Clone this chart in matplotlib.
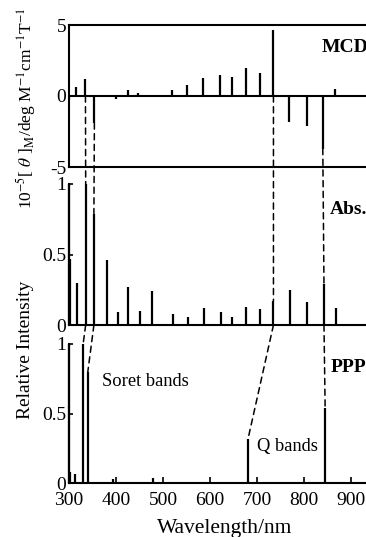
import numpy as np
import matplotlib.pyplot as plt
from matplotlib.patches import ConnectionPatch

plt.rcParams['font.family'] = ['Liberation Serif', 'DejaVu Serif']
plt.rcParams['mathtext.fontset'] = 'stix'

# MCD спектр (x 1e-5)
mcd_nm = [300, 315, 335, 354, 401, 425, 446, 520, 551, 586, 621, 646,
          676, 706, 735, 769, 806, 840, 867]
mcd_val = [-0.25, 0.6, 1.2, -1.9, -0.2, 0.45, 0.2, 0.4, 0.8, 1.25, 1.45, 1.35,
           2.0, 1.6, 4.65, -1.8, -2.1, -3.7, 0.5]

# Поглощение
abs_nm = [300, 303, 317, 335.5, 353, 381.5, 403.5, 426, 450, 476, 521, 554,
          588, 623, 647, 677, 707, 735, 771, 806, 842.5, 867.5]
abs_val = [1.0, 0.47, 0.30, 1.0, 0.79, 0.46, 0.09, 0.27, 0.10, 0.24, 0.08, 0.06,
           0.12, 0.095, 0.057, 0.13, 0.11, 0.17, 0.25, 0.16, 0.29, 0.12]

# PPP расчёт
ppp_nm = [300, 302, 313, 330, 340, 393, 478, 681, 845]
ppp_val = [1.0, 0.08, 0.07, 1.0, 0.8, 0.03, 0.035, 0.32, 0.54]

# пары пиков, соединённые штрихами
links_mcd_abs = [(2, 3), (3, 4), (14, 17), (17, 20)]
links_abs_ppp = [(3, 3), (4, 4), (17, 7), (20, 8)]

W, H = 366, 537
fig = plt.figure(figsize=(W / 100, H / 100), dpi=100)

left = 69 / W
xmax = 300 + (W - 69) / 0.47

def ax_box(y_top, y_bot):
    return [left, 1 - y_bot / H, 1 - left, (y_bot - y_top) / H]

ax1 = fig.add_axes(ax_box(25, 167))
ax2 = fig.add_axes(ax_box(184, 325))
ax3 = fig.add_axes(ax_box(344, 483.3))

lw_bar = 1.6
lw_sp = 1.5

ax1.vlines(mcd_nm, 0, mcd_val, color='k', lw=lw_bar)
ax1.axhline(0, color='k', lw=lw_sp)
ax1.set_ylim(-5, 5)
ax1.set_yticks([-5, 0, 5])
ax1.set_yticklabels(['-5', '0', '5'])
ax1.spines['right'].set_visible(False)

ax2.vlines(abs_nm, 0, abs_val, color='k', lw=lw_bar, clip_on=False)
ax3.vlines(ppp_nm, 0, ppp_val, color='k', lw=lw_bar, clip_on=False)

for ax in (ax2, ax3):
    ax.set_ylim(0, 1)
    ax.set_yticks([0, 0.5, 1])
    ax.set_yticklabels(['0', '0.5', '1'])
    ax.spines['top'].set_visible(False)
    ax.spines['right'].set_visible(False)

for ax in (ax1, ax2, ax3):
    ax.set_xlim(300, xmax)
    ax.patch.set_visible(False)
    for s in ax.spines.values():
        s.set_linewidth(lw_sp)
    ax.tick_params(axis='y', direction='in', length=3, width=1.2,
                   labelsize=14, pad=2)

for ax in (ax1, ax2):
    ax.tick_params(axis='x', bottom=False, labelbottom=False)

ax3.set_xticks(range(300, 1000, 100))
ax3.tick_params(axis='x', direction='in', length=4, width=1.2,
                labelsize=14, pad=6)

# штриховые линии между спектрами
for i, j in links_mcd_abs:
    con = ConnectionPatch(xyA=(mcd_nm[i], min(mcd_val[i], 0)), coordsA=ax1.transData,
                          xyB=(abs_nm[j], abs_val[j]), coordsB=ax2.transData,
                          color='k', lw=1.1, linestyle=(0, (4, 3)))
    fig.add_artist(con)
for i, j in links_abs_ppp:
    con = ConnectionPatch(xyA=(abs_nm[i], 0), coordsA=ax2.transData,
                          xyB=(ppp_nm[j], ppp_val[j]), coordsB=ax3.transData,
                          color='k', lw=1.1, linestyle=(0, (4, 3)))
    fig.add_artist(con)

# подписи
fig.text(26 / W, 1 - 108 / H,
         r'10$^{-5}$[ $\theta$ ]$_{\rm M}$/deg M$^{-1}$cm$^{-1}$T$^{-1}$',
         rotation=90, ha='center', va='center', fontsize=12.5)
fig.text(25 / W, 1 - 350 / H, 'Relative Intensity', rotation=90,
         ha='center', va='center', fontsize=14)
fig.text(225 / W, 1 - 528 / H, 'Wavelength/nm',
         ha='center', va='center', fontsize=15.5)

fig.text(322 / W, 1 - 48 / H, 'MCD', fontweight='bold', va='center', fontsize=14)
fig.text(330 / W, 1 - 210 / H, 'Abs.', fontweight='bold', va='center', fontsize=14)
fig.text(331 / W, 1 - 368 / H, 'PPP', fontweight='bold', va='center', fontsize=14)
fig.text(102 / W, 1 - 382 / H, 'Soret bands', va='center', fontsize=13.3)
fig.text(257 / W, 1 - 447 / H, 'Q bands', va='center', fontsize=13.3)

fig.savefig('out.png', dpi=100)
